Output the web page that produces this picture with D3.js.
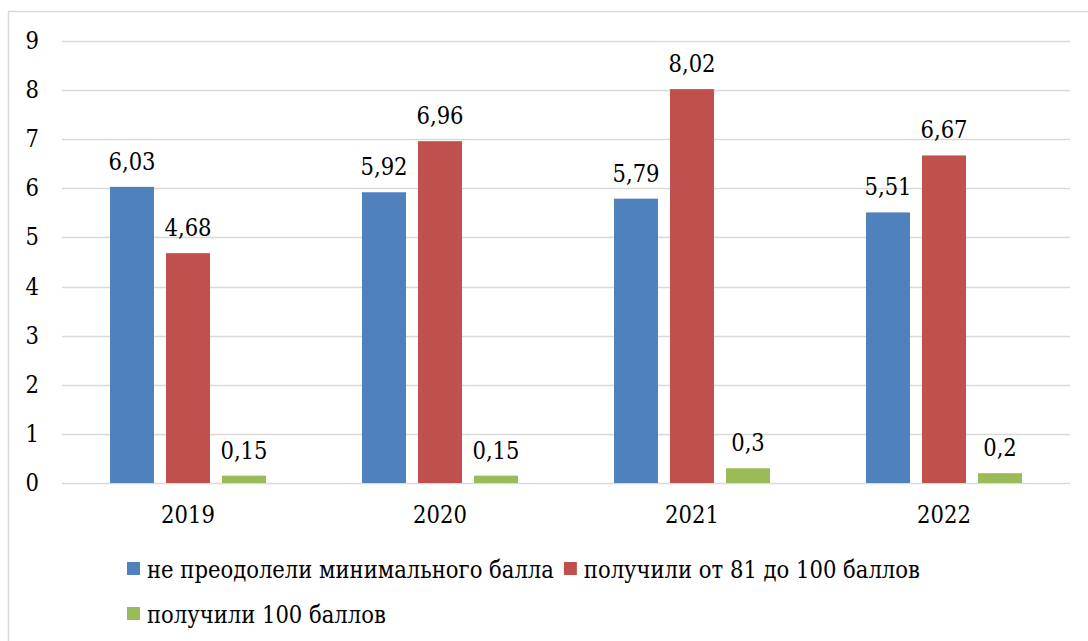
<!DOCTYPE html>
<html lang="ru">
<head>
    <meta charset="UTF-8">
    <script src="https://d3js.org/d3.v7.min.js" charset="utf-8"></script>
    <title>Chart</title>
    <style>
        body { margin: 0; background: white; }
    </style>
</head>
<body>
<div id="chart"></div>

<script>
    const width = 1088;
    const height = 641;
    const fontFamily = "'DejaVu Serif Condensed', 'DejaVu Serif', serif";
    const fontSize = 23.5;

    // data
    const years = ["2019", "2020", "2021", "2022"];
    const seriesNames = ["не преодолели минимального балла", "получили от 81 до 100 баллов", "получили 100 баллов"];
    const notPassed = [6.03, 5.92, 5.79, 5.51];
    const from81to100 = [4.68, 6.96, 8.02, 6.67];
    const got100 = [0.15, 0.15, 0.3, 0.2];
    const yTicks = [0, 1, 2, 3, 4, 5, 6, 7, 8, 9];
    const colors = ["#4f81bd", "#c0504d", "#9bbb59"];

    const allSeries = [notPassed, from81to100, got100];

    const margin = {left: 62, right: 18, top: 41, bottom: 158};

    const svg = d3.select("#chart").append("svg")
        .attr("width", width)
        .attr("height", height)
        .style("font-family", fontFamily)
        .style("font-stretch", "condensed");

    // chart border (runs off right/bottom edge)
    svg.append("rect")
        .attr("x", 8.5).attr("y", 11.5)
        .attr("width", 1100).attr("height", 700)
        .attr("fill", "white")
        .attr("stroke", "#d9d9d9")
        .attr("stroke-width", 1.5);

    const x = d3.scaleBand()
        .domain(years)
        .range([margin.left, width - margin.right]);

    const inner = d3.scaleBand()
        .domain(d3.range(3))
        .range([48, x.bandwidth() - 48])
        .paddingInner(0.214);

    const y = d3.scaleLinear()
        .domain([0, 9])
        .range([height - margin.bottom, margin.top]);

    // gridlines
    svg.append("g")
        .selectAll("line")
        .data(yTicks)
        .enter()
        .append("line")
        .attr("x1", margin.left)
        .attr("x2", width - margin.right)
        .attr("y1", d => Math.round(y(d)) + 0.5)
        .attr("y2", d => Math.round(y(d)) + 0.5)
        .attr("stroke", "#d9d9d9")
        .attr("stroke-width", 1.5);

    // y tick labels
    svg.append("g")
        .selectAll("text")
        .data(yTicks)
        .enter()
        .append("text")
        .attr("x", 39)
        .attr("y", d => y(d) + 8)
        .attr("text-anchor", "end")
        .attr("font-size", fontSize)
        .text(d => d);

    // bars
    allSeries.forEach((vals, s) => {
        const g = svg.append("g");
        g.selectAll("rect")
            .data(vals)
            .enter()
            .append("rect")
            .attr("x", (d, i) => x(years[i]) + inner(s))
            .attr("y", d => y(d))
            .attr("width", inner.bandwidth())
            .attr("height", d => y(0) - y(d))
            .attr("fill", colors[s]);

        g.selectAll("text")
            .data(vals)
            .enter()
            .append("text")
            .attr("x", (d, i) => x(years[i]) + inner(s) + inner.bandwidth() / 2)
            .attr("y", d => y(d) - 17)
            .attr("text-anchor", "middle")
            .attr("font-size", fontSize)
            .text(d => String(d).replace(".", ","));
    });

    // x labels
    svg.append("g")
        .selectAll("text")
        .data(years)
        .enter()
        .append("text")
        .attr("x", d => x(d) + x.bandwidth() / 2)
        .attr("y", 523)
        .attr("text-anchor", "middle")
        .attr("font-size", fontSize)
        .text(d => d);

    // legend
    const legendRows = [[0, 1], [2]];
    const rowY = [578, 623];
    legendRows.forEach((row, r) => {
        let cx = 127;
        row.forEach(s => {
            svg.append("rect")
                .attr("x", cx)
                .attr("y", rowY[r] - 16)
                .attr("width", 13)
                .attr("height", 13)
                .attr("fill", colors[s]);
            const t = svg.append("text")
                .attr("x", cx + 20)
                .attr("y", rowY[r])
                .attr("font-size", fontSize)
                .text(seriesNames[s]);
            cx += 20 + t.node().getComputedTextLength() + 10;
        });
    });
</script>
</body>
</html>
